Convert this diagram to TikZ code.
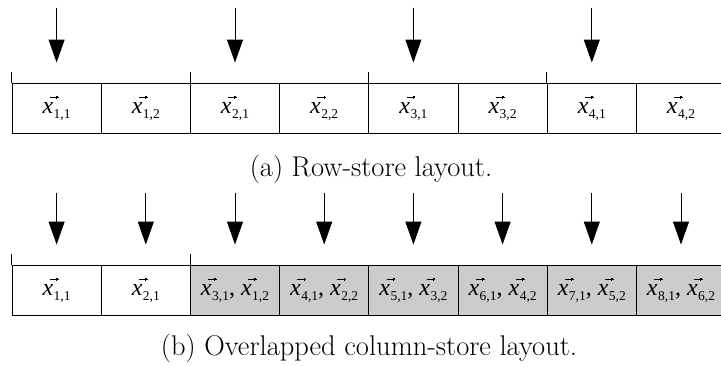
\documentclass[tikz,border=0pt]{standalone}
\usepackage{fontspec}
\usetikzlibrary{arrows.meta}
\newfontfamily\lblfont{Liberation Serif}
\definecolor{cellgray}{RGB}{204,204,204}
% small vector arrow built from rules: shaft plus a stepped head
\newcommand\vecarrow{\rule[-0.3pt]{6.2pt}{0.6pt}\rule[-1.6pt]{0.8pt}{3.2pt}\rule[-1.1pt]{0.8pt}{2.2pt}\rule[-0.5pt]{0.8pt}{1pt}}
% vector x with a two-index subscript
\newcommand\vx[1]{{\itshape x}\rlap{\kern-3.5pt\raisebox{16pt}{\vecarrow}}\kern0.5pt\raisebox{-5pt}{\fontsize{13.5}{13.5}\selectfont #1}}
\tikzset{
  cell/.style={draw, line width=0.9pt, minimum width=89.2pt, minimum height=50pt,
    inner sep=0pt, font=\lblfont\fontsize{24}{24}\selectfont},
  shaded/.style={cell, fill=cellgray},
  ptr/.style={line width=0.9pt, -{Triangle[length=23pt,width=16pt]}, shorten >=20pt},
  tick/.style={line width=0.9pt},
  caption/.style={anchor=base, font=\fontsize{28.5}{34}\selectfont}
}
\begin{document}
\begin{tikzpicture}[x=1pt,y=-1pt]
\useasboundingbox (0,0) rectangle (721,367);
\clip (0,0) rectangle (721,367);

% (a) row-store layout
\node[cell] (a1) at (56.6,108) {\vx{1,1}};
\node[cell] (a2) at (145.8,108) {\vx{1,2}};
\node[cell] (a3) at (235.0,108) {\vx{2,1}};
\node[cell] (a4) at (324.2,108) {\vx{2,2}};
\node[cell] (a5) at (413.4,108) {\vx{3,1}};
\node[cell] (a6) at (502.6,108) {\vx{3,2}};
\node[cell] (a7) at (591.8,108) {\vx{4,1}};
\node[cell] (a8) at (681.0,108) {\vx{4,2}};
\foreach \c in {a1,a3,a5,a7}{
  \draw[tick] (\c.north west) -- ++(0,-11);
  \coordinate (p\c) at ([yshift=75pt]\c.north);
  \draw[ptr] (p\c) -- (\c.north);
}
\node[caption] (capa) at (371,176) {(a) Row-store layout.};

% (b) overlapped column-store layout
\node[cell] (b1) at (56.6,290) {\vx{1,1}};
\node[cell] (b2) at (145.8,290) {\vx{2,1}};
\node[shaded] (b3) at (235.0,290) {\vx{3,1}, \vx{1,2}};
\node[shaded] (b4) at (324.2,290) {\vx{4,1}, \vx{2,2}};
\node[shaded] (b5) at (413.4,290) {\vx{5,1}, \vx{3,2}};
\node[shaded] (b6) at (502.6,290) {\vx{6,1}, \vx{4,2}};
\node[shaded] (b7) at (591.8,290) {\vx{7,1}, \vx{5,2}};
\node[shaded] (b8) at (681.0,290) {\vx{8,1}, \vx{6,2}};
\foreach \c in {b1,b3}{
  \draw[tick] (\c.north west) -- ++(0,-11);
}
\foreach \c in {b1,b2,b3,b4,b5,b6,b7,b8}{
  \coordinate (p\c) at ([yshift=72pt]\c.north);
  \draw[ptr] (p\c) -- (\c.north);
}
\node[caption] (capb) at (369,355) {(b) Overlapped column-store layout.};
\end{tikzpicture}
\end{document}
